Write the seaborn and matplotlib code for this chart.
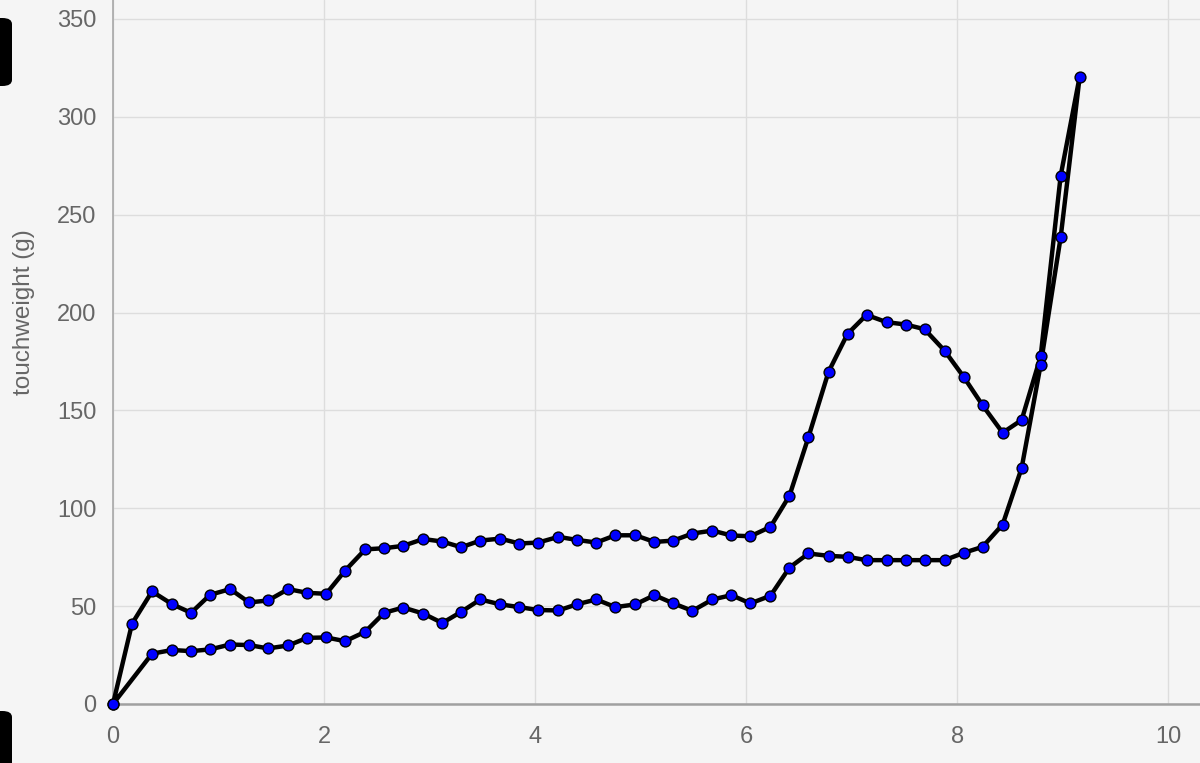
# Curva de touchweight (ida e volta)

import matplotlib.pyplot as plt
import seaborn as sns
import pandas as pd
from matplotlib.patches import FancyBboxPatch

# --- Dados ---
# trecho de ida (curva superior)
x_up = [0, 0.18, 0.37, 0.56, 0.74, 0.92, 1.11, 1.29, 1.47, 1.66, 1.84, 2.02, 2.20, 2.39, 2.57,
        2.75, 2.94, 3.12, 3.30, 3.48, 3.67, 3.85, 4.03, 4.22, 4.40, 4.58, 4.76, 4.95, 5.13, 5.31,
        5.49, 5.68, 5.86, 6.04, 6.23, 6.41, 6.59, 6.78, 6.96, 7.14, 7.33, 7.51, 7.69, 7.88, 8.06,
        8.24, 8.43, 8.61, 8.79, 8.98, 9.16]
y_up = [0, 41, 57.5, 51, 46.6, 55.8, 58.7, 51.9, 52.9, 58.7, 56.8, 56.3, 68.2, 79, 79.6,
        80.8, 84.3, 83, 80.1, 83.5, 84.5, 82, 82.5, 85.4, 83.8, 82.5, 86.2, 86.2, 82.8, 83.5,
        87.1, 88.6, 86.1, 85.7, 90.5, 106.4, 136.4, 169.7, 189.1, 198.8, 195.1, 193.9, 191.5, 180.5, 167.2,
        152.6, 138.6, 145.1, 177.6, 270, 320.6]
# trecho de volta (curva inferior)
x_down = [8.98, 8.79, 8.61, 8.43, 8.24, 8.06, 7.88, 7.69, 7.51, 7.33, 7.14, 6.96, 6.78, 6.59, 6.41,
          6.23, 6.04, 5.86, 5.68, 5.49, 5.31, 5.13, 4.95, 4.76, 4.58, 4.40, 4.22, 4.03, 3.85, 3.67,
          3.48, 3.30, 3.12, 2.94, 2.75, 2.57, 2.39, 2.20, 2.02, 1.84, 1.66, 1.47, 1.29, 1.11, 0.92,
          0.74, 0.56, 0.37, 0]
y_down = [238.6, 173.3, 120.6, 91.7, 80.3, 77.2, 73.5, 73.5, 73.5, 73.5, 73.5, 75.2, 75.7, 76.9, 69.7,
          55.3, 51.4, 55.6, 53.4, 47.6, 51.4, 55.6, 50.9, 49.5, 53.4, 51, 47.8, 48, 49.5, 50.9,
          53.4, 47.1, 41.4, 46.2, 49.3, 46.6, 36.9, 32.1, 34, 33.8, 29.9, 28.4, 30.1, 30.4, 27.9,
          27, 27.6, 25.7, 0]

x_ticks = [0, 2, 4, 6, 8, 10]
y_ticks = [0, 50, 100, 150, 200, 250, 300, 350]
y_label = "touchweight (g)"

df = pd.DataFrame({"x": x_up + x_down, "y": y_up + y_down})

# --- Estilo ---
bg = "#f5f5f5"
grid_c = "#dddddd"
text_c = "#666666"
sns.set_theme(style="whitegrid")
plt.rcParams["font.family"] = ["Liberation Sans", "DejaVu Sans"]

fig = plt.figure(figsize=(12, 7.63), dpi=100, facecolor=bg)
ax = fig.add_axes([113 / 1200, 59 / 763, 1 - 113 / 1200, 1 - 59 / 763])
ax.set_facecolor(bg)

sns.lineplot(data=df, x="x", y="y", sort=False, estimator=None, ax=ax,
             color="black", linewidth=3.2, marker="o", markersize=7.8,
             markerfacecolor="#0000ff", markeredgecolor="black", markeredgewidth=1.0,
             clip_on=False, zorder=5)

ax.set_xlim(0, 10.3)
ax.set_ylim(0, 359.7)
ax.set_xticks(x_ticks)
ax.set_yticks(y_ticks)
ax.grid(True, color=grid_c, linewidth=1)
ax.tick_params(axis="both", which="major", length=10, width=1, color=grid_c,
               labelcolor=text_c, labelsize=17, direction="out")
ax.tick_params(axis="x", pad=6)
ax.tick_params(axis="y", pad=2)

for side in ["top", "right"]:
    ax.spines[side].set_visible(False)
ax.spines["left"].set_color("#a8a8a8")
ax.spines["left"].set_linewidth(1.2)
ax.spines["bottom"].set_color("#a0a0a0")
ax.spines["bottom"].set_linewidth(1.8)

ax.set_xlabel("")
ax.set_ylabel(y_label, fontsize=17.5, color=text_c)
ax.yaxis.set_label_coords(-0.072, 0.557)

# bordas escuras da captura de tela
for (yb, h) in [(18 / 763, 68 / 763), (-20 / 763, 72 / 763)]:
    fig.patches.append(FancyBboxPatch((-0.01, 1 - yb - h if yb > 0 else yb), 0.02, h,
                                      boxstyle="round,pad=0,rounding_size=0.008",
                                      transform=fig.transFigure, facecolor="black",
                                      edgecolor="none", zorder=10))

plt.savefig("out.png", dpi=100, facecolor=bg)
plt.close()
